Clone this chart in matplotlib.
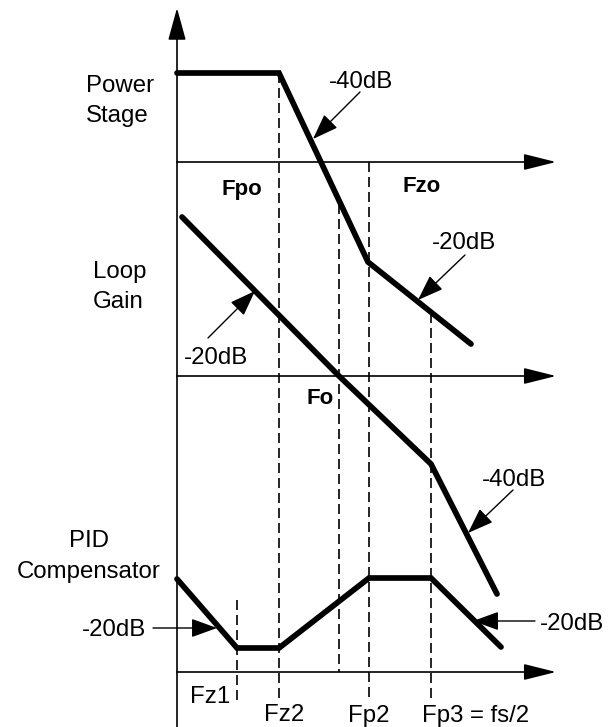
import matplotlib
matplotlib.use("Agg")
import matplotlib.pyplot as plt

plt.rcParams['font.family'] = ['Liberation Sans', 'DejaVu Sans']

# drawing is laid out in pixel units of a 608 x 727 canvas (y downwards)
W, H = 608, 727

# frequency axes (one per plot) and the shared vertical axis
axis_y = [162, 376, 672]
axis_x0, axis_x1 = 177, 556
vaxis_x, vaxis_bot, vaxis_top = 177, 727, 8

# asymptotic curves (break points)
power_x = [177, 279, 368, 471]
power_y = [73, 73, 262, 344]
loop_x = [182, 339, 431, 497]
loop_y = [217, 376, 464, 594]
pid_x = [177, 237, 279, 369, 431, 501]
pid_y = [579, 648, 648, 578, 578, 647]

# dashed frequency markers
mark_x = [237, 279, 339, 369, 431]
mark_top = [600, 73, 204, 162, 313]
mark_bot = [700, 700, 672, 700, 700]

# frequency labels under the bottom axis
freq_text = ["Fz1", "Fz2", "Fp2", "Fp3 = fs/2"]
freq_x = [190, 264, 348, 422]
freq_base = [703, 721, 722, 722]

# bold labels
bold_text = ["Fpo", "Fzo", "Fo"]
bold_x = [242, 422, 320]
bold_base = [195, 192, 404]

# slope annotations: text centre/baseline, arrow start, arrow tip
slope_text = ["-40dB", "-20dB", "-20dB", "-40dB", "-20dB", "-20dB"]
slope_x = [361, 464, 216, 514, 114, 572]
slope_base = [88, 249, 364, 486, 636, 630]
arrow_from = [(360, 92), (465, 255), (208, 338), (513, 490), (153, 628), (535, 621)]
arrow_to = [(313, 139), (418, 300), (255, 291), (468, 533), (217, 628), (473, 621)]

# section names, one entry per line
sect_text = ["Power", "Stage", "Loop", "Gain", "PID", "Compensator"]
sect_x = [86, 86, 93, 93, 89, 89]
sect_base = [92, 122, 278, 308, 547, 578]
sect_ha = ["left", "left", "left", "left", "center", "center"]

FS = 17.3
axis_head = "-|>,head_length=2.0,head_width=0.5"
note_head = "-|>,head_length=1.6,head_width=0.58"

fig = plt.figure(figsize=(W / 100, H / 100), dpi=100)
ax = fig.add_axes([0, 0, 1, 1])
ax.set_xlim(0, W)
ax.set_ylim(H, 0)
ax.axis("off")

# axes
ax.annotate("", xy=(vaxis_x, vaxis_top), xytext=(vaxis_x, vaxis_bot),
            arrowprops=dict(arrowstyle="-|>,head_length=2.0,head_width=0.55",
                            mutation_scale=10, lw=1.2, color="black",
                            shrinkA=0, shrinkB=0))
for y in axis_y:
    ax.annotate("", xy=(axis_x1, y), xytext=(axis_x0, y),
                arrowprops=dict(arrowstyle=axis_head, mutation_scale=10, lw=1.2,
                                color="black", shrinkA=0, shrinkB=0))

# dashed markers
for x, t, b in zip(mark_x, mark_top, mark_bot):
    ax.plot([x, x], [t, b], color="black", lw=1.2, linestyle=(0, (6, 3)))

# curves
for xs, ys in [(power_x, power_y), (loop_x, loop_y), (pid_x, pid_y)]:
    ax.plot(xs, ys, color="black", lw=4.1, solid_capstyle="round",
            solid_joinstyle="miter")

# slope annotations
for t, x, b, p0, p1 in zip(slope_text, slope_x, slope_base, arrow_from, arrow_to):
    ax.text(x, b, t, fontsize=FS, ha="center", va="baseline")
    ax.annotate("", xy=p1, xytext=p0,
                arrowprops=dict(arrowstyle=note_head, mutation_scale=10, lw=1.0,
                                color="black", shrinkA=0, shrinkB=0))

for t, x, b in zip(freq_text, freq_x, freq_base):
    ax.text(x, b, t, fontsize=FS, ha="left", va="baseline")

for t, x, b in zip(bold_text, bold_x, bold_base):
    ax.text(x, b, t, fontsize=16, fontweight="bold", ha="center", va="baseline")

for t, x, b, ha in zip(sect_text, sect_x, sect_base, sect_ha):
    ax.text(x, b, t, fontsize=FS, ha=ha, va="baseline")

fig.savefig("out.png", dpi=100)
